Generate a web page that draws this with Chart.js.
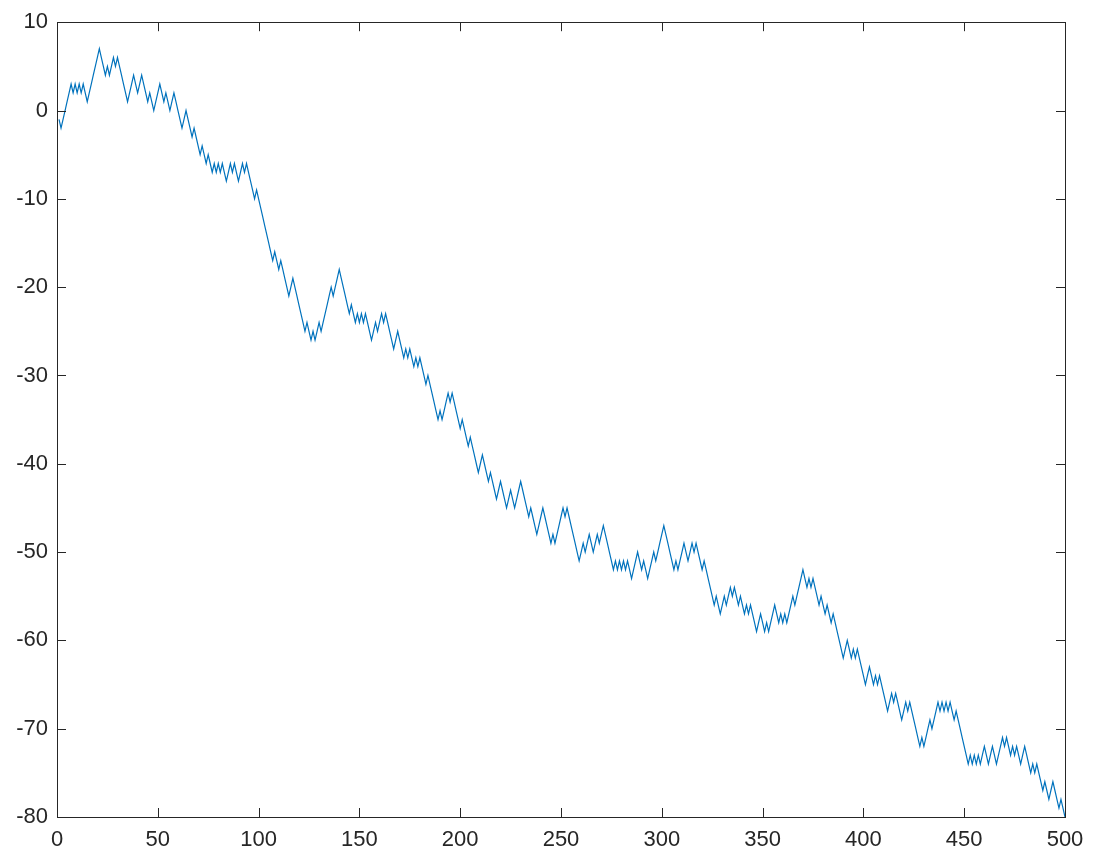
<!DOCTYPE html>
<html>
<head>
<meta charset="utf-8">
<script src="https://cdn.jsdelivr.net/npm/chart.js@4/dist/chart.umd.min.js"></script>
<style>
  html, body { margin: 0; padding: 0; background: #fff; }
  #wrap { width: 1101px; height: 859px; }
</style>
</head>
<body>
<div id="wrap"><canvas id="walkChart" width="1101" height="859"></canvas></div>
<script>
// step index 1..500 (x) and the walk value (y)
const steps = Array.from({ length: 500 }, (_, i) => i + 1);

const walk = [
  -1, -2, -1, 0, 1, 2, 3, 2, 3, 2, 3, 2, 3, 2, 1, 2, 3, 4, 5, 6,
  7, 6, 5, 4, 5, 4, 5, 6, 5, 6, 5, 4, 3, 2, 1, 2, 3, 4, 3, 2,
  3, 4, 3, 2, 1, 2, 1, 0, 1, 2, 3, 2, 1, 2, 1, 0, 1, 2, 1, 0,
  -1, -2, -1, 0, -1, -2, -3, -2, -3, -4, -5, -4, -5, -6, -5, -6, -7, -6, -7, -6,
  -7, -6, -7, -8, -7, -6, -7, -6, -7, -8, -7, -6, -7, -6, -7, -8, -9, -10, -9, -10,
  -11, -12, -13, -14, -15, -16, -17, -16, -17, -18, -17, -18, -19, -20, -21, -20, -19, -20, -21, -22,
  -23, -24, -25, -24, -25, -26, -25, -26, -25, -24, -25, -24, -23, -22, -21, -20, -21, -20, -19, -18,
  -19, -20, -21, -22, -23, -22, -23, -24, -23, -24, -23, -24, -23, -24, -25, -26, -25, -24, -25, -24,
  -23, -24, -23, -24, -25, -26, -27, -26, -25, -26, -27, -28, -27, -28, -27, -28, -29, -28, -29, -28,
  -29, -30, -31, -30, -31, -32, -33, -34, -35, -34, -35, -34, -33, -32, -33, -32, -33, -34, -35, -36,
  -35, -36, -37, -38, -37, -38, -39, -40, -41, -40, -39, -40, -41, -42, -41, -42, -43, -44, -43, -42,
  -43, -44, -45, -44, -43, -44, -45, -44, -43, -42, -43, -44, -45, -46, -45, -46, -47, -48, -47, -46,
  -45, -46, -47, -48, -49, -48, -49, -48, -47, -46, -45, -46, -45, -46, -47, -48, -49, -50, -51, -50,
  -49, -50, -49, -48, -49, -50, -49, -48, -49, -48, -47, -48, -49, -50, -51, -52, -51, -52, -51, -52,
  -51, -52, -51, -52, -53, -52, -51, -50, -51, -52, -51, -52, -53, -52, -51, -50, -51, -50, -49, -48,
  -47, -48, -49, -50, -51, -52, -51, -52, -51, -50, -49, -50, -51, -50, -49, -50, -49, -50, -51, -52,
  -51, -52, -53, -54, -55, -56, -55, -56, -57, -56, -55, -56, -55, -54, -55, -54, -55, -56, -55, -56,
  -57, -56, -57, -56, -57, -58, -59, -58, -57, -58, -59, -58, -59, -58, -57, -56, -57, -58, -57, -58,
  -57, -58, -57, -56, -55, -56, -55, -54, -53, -52, -53, -54, -53, -54, -53, -54, -55, -56, -55, -56,
  -57, -56, -57, -58, -57, -58, -59, -60, -61, -62, -61, -60, -61, -62, -61, -62, -61, -62, -63, -64,
  -65, -64, -63, -64, -65, -64, -65, -64, -65, -66, -67, -68, -67, -66, -67, -66, -67, -68, -69, -68,
  -67, -68, -67, -68, -69, -70, -71, -72, -71, -72, -71, -70, -69, -70, -69, -68, -67, -68, -67, -68,
  -67, -68, -67, -68, -69, -68, -69, -70, -71, -72, -73, -74, -73, -74, -73, -74, -73, -74, -73, -72,
  -73, -74, -73, -72, -73, -74, -73, -72, -71, -72, -71, -72, -73, -72, -73, -72, -73, -74, -73, -72,
  -73, -74, -75, -74, -75, -74, -75, -76, -77, -76, -77, -78, -77, -76, -77, -78, -79, -78, -79, -80
];

const xTicks = [0, 50, 100, 150, 200, 250, 300, 350, 400, 450, 500];
const yTicks = [10, 0, -10, -20, -30, -40, -50, -60, -70, -80];

const axisColor = "#262626";
const lineColor = "#0072BD";

// octave-style box with inward ticks on all four sides
const boxTicks = {
  id: "boxTicks",
  afterDraw(chart) {
    const { ctx, chartArea: a, scales } = chart;
    const len = 9;
    ctx.save();
    ctx.strokeStyle = axisColor;
    ctx.lineWidth = 1;
    ctx.beginPath();
    for (const v of xTicks) {
      const px = Math.round(scales.x.getPixelForValue(v)) + 0.5;
      ctx.moveTo(px, a.bottom);
      ctx.lineTo(px, a.bottom - len);
      ctx.moveTo(px, a.top);
      ctx.lineTo(px, a.top + len);
    }
    for (const v of yTicks) {
      const py = Math.round(scales.y.getPixelForValue(v)) + 0.5;
      ctx.moveTo(a.left, py);
      ctx.lineTo(a.left + len, py);
      ctx.moveTo(a.right, py);
      ctx.lineTo(a.right - len, py);
    }
    ctx.stroke();
    ctx.strokeRect(Math.round(a.left) + 0.5, Math.round(a.top) + 0.5,
      Math.round(a.right - a.left), Math.round(a.bottom - a.top));
    ctx.restore();
  }
};

new Chart(document.getElementById("walkChart"), {
  type: "line",
  data: {
    datasets: [
      {
        data: steps.map((s, i) => ({ x: s, y: walk[i] })),
        borderColor: lineColor,
        borderWidth: 1.2,
        pointRadius: 0,
        tension: 0,
        fill: false
      }
    ]
  },
  options: {
    responsive: false,
    animation: false,
    layout: { padding: { top: 21, right: 36, left: 0, bottom: 0 } },
    plugins: { legend: { display: false }, tooltip: { enabled: false } },
    scales: {
      x: {
        type: "linear",
        min: 0,
        max: 500,
        afterFit: (s) => { s.height = 42; },
        afterBuildTicks: (s) => { s.ticks = xTicks.map((v) => ({ value: v })); },
        grid: { display: false, drawTicks: false },
        border: { display: false },
        ticks: { color: axisColor, padding: 10, maxRotation: 0, font: { family: "Liberation Sans", size: 22 } }
      },
      y: {
        min: -80,
        max: 10,
        afterFit: (s) => { s.width = 57; },
        afterBuildTicks: (s) => { s.ticks = yTicks.map((v) => ({ value: v })); },
        grid: { display: false, drawTicks: false },
        border: { display: false },
        ticks: { color: axisColor, padding: 9, font: { family: "Liberation Sans", size: 22 } }
      }
    }
  },
  plugins: [boxTicks]
});
</script>
</body>
</html>
